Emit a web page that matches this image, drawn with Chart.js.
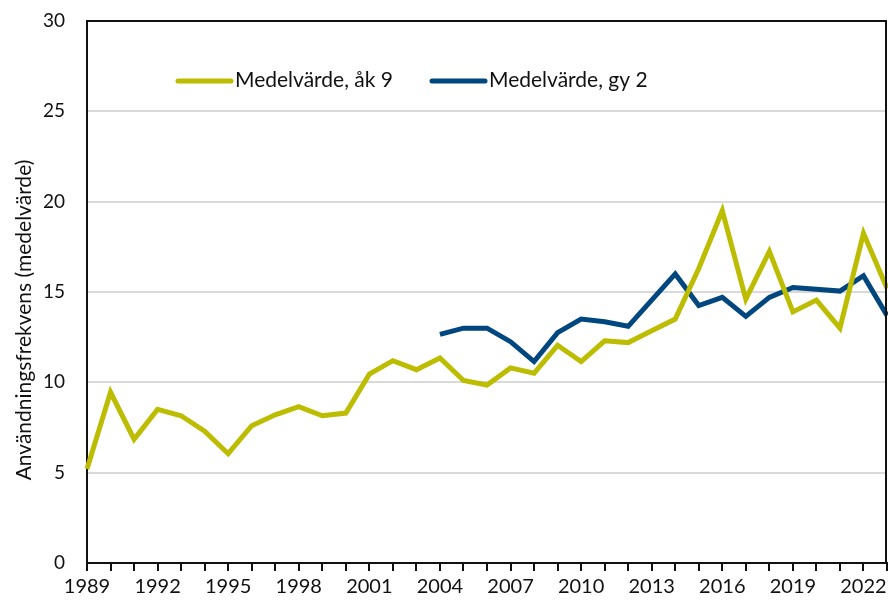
<!DOCTYPE html>
<html>
<head>
<meta charset="utf-8">
<script src="https://cdn.jsdelivr.net/npm/chart.js@4"></script>
<style>
  html, body { margin: 0; padding: 0; background: #fff; }
  #wrap { width: 888px; height: 603px; }
</style>
</head>
<body>
<div id="wrap"><canvas id="myChart"></canvas></div>
<script>
const years = [];
for (let y = 1989; y <= 2023; y++) years.push(String(y));

const ak9 = [5.2, 9.45, 6.85, 8.5, 8.15, 7.3, 6.05, 7.6, 8.2, 8.65, 8.15, 8.3, 10.45, 11.2, 10.7, 11.35,
  10.1, 9.85, 10.8, 10.5, 12.05, 11.15, 12.3, 12.2, 12.85, 13.5, 16.3, 19.5, 14.6, 17.25, 13.9, 14.55, 13.0, 18.25, 15.2];
const gy2 = [null, null, null, null, null, null, null, null, null, null, null, null, null, null, null, 12.65,
  13.0, 13.0, 12.25, 11.15, 12.75, 13.5, 13.35, 13.1, 14.55, 16.0, 14.25, 14.7, 13.65, 14.7, 15.25, 15.15, 15.05, 15.9, 13.7];
const yTicks = [0, 5, 10, 15, 20, 25, 30];

const font = 'Lato, "DejaVu Sans", sans-serif';
const yellow = '#bcbc00';
const blue = '#00467f';

const extras = {
  id: 'extras',
  afterDraw(chart) {
    const c = chart.ctx;
    const a = chart.chartArea;
    c.save();
    // frame top and right
    c.strokeStyle = '#111';
    c.lineWidth = 2;
    c.beginPath();
    c.moveTo(a.left, a.top);
    c.lineTo(a.right - 1, a.top);
    c.lineTo(a.right - 1, a.bottom);
    c.stroke();

    // legend inside plot
    c.font = '21px ' + font;
    c.textBaseline = 'middle';
    c.fillStyle = '#111';
    c.lineWidth = 5;
    c.lineCap = 'round';
    const items = [
      { x: 178, t: chart.data.datasets[0].label, col: yellow },
      { x: 432, t: chart.data.datasets[1].label, col: blue }
    ];
    items.forEach(it => {
      c.strokeStyle = it.col;
      c.beginPath();
      c.moveTo(it.x, 81);
      c.lineTo(it.x + 53, 81);
      c.stroke();
      c.fillText(it.t, it.x + 57, 80);
    });

    // y title
    c.translate(24, 320);
    c.rotate(-Math.PI / 2);
    c.textAlign = 'center';
    c.font = '21px ' + font;
    c.fillText('Användningsfrekvens (medelvärde)', 0, 0);
    c.restore();
  }
};

new Chart(document.getElementById('myChart'), {
  type: 'line',
  data: {
    labels: years,
    datasets: [{
      label: 'Medelvärde, åk 9',
      data: ak9,
      borderColor: yellow,
      backgroundColor: yellow,
      borderWidth: 5,
      pointRadius: 0,
      tension: 0
    }, {
      label: 'Medelvärde, gy 2',
      data: gy2,
      borderColor: blue,
      backgroundColor: blue,
      borderWidth: 5,
      pointRadius: 0,
      tension: 0,
      spanGaps: false
    }]
  },
  options: {
    responsive: true,
    maintainAspectRatio: false,
    animation: false,
    layout: { padding: { top: 21, right: 1, left: 0, bottom: 0 } },
    plugins: {
      legend: { display: false },
      tooltip: { enabled: false }
    },
    scales: {
      x: {
        offset: false,
        afterFit(s) { s.height = 40; s.paddingLeft = 0; s.paddingRight = 0; },
        grid: {
          drawOnChartArea: false,
          drawTicks: true,
          tickLength: 8,
          tickColor: '#111',
          lineWidth: 2
        },
        border: { display: true, color: '#111', width: 2 },
        ticks: {
          autoSkip: false,
          maxRotation: 0,
          color: '#111',
          font: { family: font, size: 20 },
          padding: 4,
          callback(v, i) { return i % 3 === 0 ? years[i] : ''; }
        }
      },
      y: {
        min: 0,
        max: 30,
        afterFit(s) { s.width = 87; s.paddingTop = 0; s.paddingBottom = 0; },
        afterBuildTicks(s) { s.ticks = yTicks.map(v => ({ value: v })); },
        grid: {
          color: '#d9d9d9',
          lineWidth: 2,
          drawTicks: false
        },
        border: { display: true, color: '#111', width: 2 },
        ticks: {
          color: '#111',
          font: { family: font, size: 19 },
          padding: 22
        }
      }
    }
  },
  plugins: [extras]
});
</script>
</body>
</html>
